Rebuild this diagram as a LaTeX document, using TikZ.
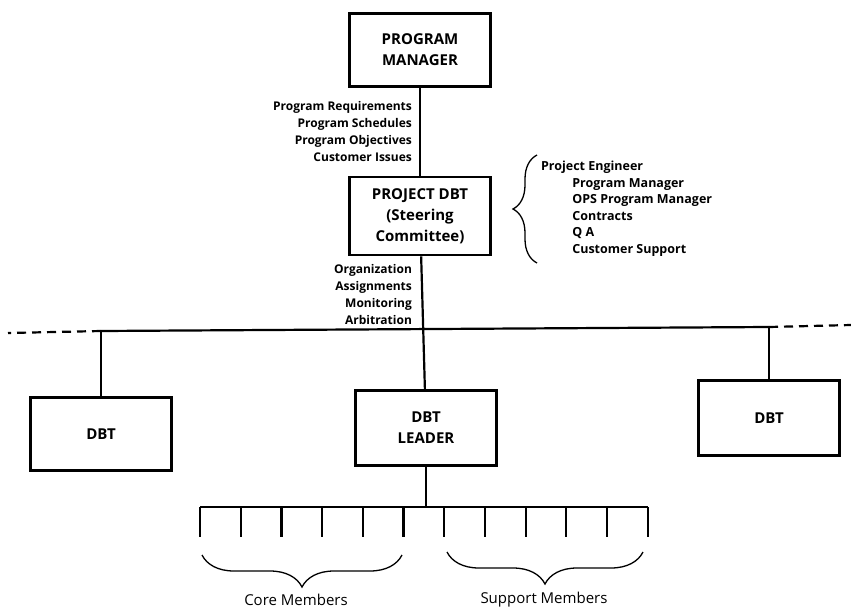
\documentclass[tikz,border=0pt]{standalone}
\usepackage{fontspec}
\setmainfont{Open Sans}
\usetikzlibrary{decorations.pathreplacing}
\begin{document}
\begin{tikzpicture}
 [x=1pt,y=-1pt,line width=2.2pt,
  box/.style={draw,line width=2.6pt,minimum width=141pt,minimum height=73pt,
    align=center,font=\bfseries\fontsize{15}{21}\selectfont},
  lbl/.style={align=right,anchor=east,inner sep=0pt,font=\bfseries\fontsize{12}{17}\selectfont},
  brc/.style={decorate,decoration={brace,amplitude=#1},line width=1.3pt}]
  \useasboundingbox (0,0) rectangle (851,613);

  \node[box] (pm) at (420,50) {PROGRAM\\MANAGER};
  \node[box,minimum height=78pt] (pdbt) at (420,216) {PROJECT DBT\\(Steering\\Committee)};
  \node[box] (dbtl) at (101,434) {DBT};
  \node[box,minimum height=75pt] (leader) at (426,428) {DBT\\LEADER};
  \node[box,minimum height=75pt] (dbtr) at (769,418) {DBT};

  \node[lbl] (reqs) at (413,131) {Program Requirements\\Program Schedules\\Program Objectives\\Customer Issues};
  \node[lbl] (tasks) at (413,294) {Organization\\Assignments\\Monitoring\\Arbitration};
  \node[anchor=north west,align=left,inner sep=0pt,font=\bfseries\fontsize{12.5}{16.5}\selectfont] (team) at (540,160)
    {Project Engineer\\\hspace*{2.5em}Program Manager\\\hspace*{2.5em}OPS Program Manager\\
     \hspace*{2.5em}Contracts\\\hspace*{2.5em}Q A\\\hspace*{2.5em}Customer Support};

  \coordinate (hl) at (101,331);
  \coordinate (hr) at (769,327);
  \coordinate (dl) at (8,333);
  \coordinate (dr) at (851,325);

  \draw (pm) -- (pdbt);
  \draw (pdbt) -- (leader);
  \draw (hl) -- (hr);
  \draw (hl) -- (dbtl);
  \draw (hr) -- (dbtr);
  \draw[dash pattern=on 9pt off 6pt] (hl) -- (dl);
  \draw[dash pattern=on 9pt off 6pt] (hr) -- (dr);

  % team members
  \foreach \i in {1,...,12}
    \coordinate (m\i) at ({200+40.7*(\i-1)},507);
  \coordinate (bar) at (leader |- m1);
  \draw (leader) -- (bar);
  \draw (m1) -- (m12);
  \foreach \i in {1,...,12}
    \draw (m\i) -- ++(0,30);

  \draw[brc=24pt] (537,263) -- (537,155);
  \draw[brc=32pt] (402,555) -- (202,555);
  \draw[brc=32pt] (643,552) -- (447,552);

  \node[font=\fontsize{15}{17}\selectfont] (core) at (296,600) {Core Members};
  \node[font=\fontsize{15}{17}\selectfont] (support) at (544,600) {Support Members};

\end{tikzpicture}
\end{document}
